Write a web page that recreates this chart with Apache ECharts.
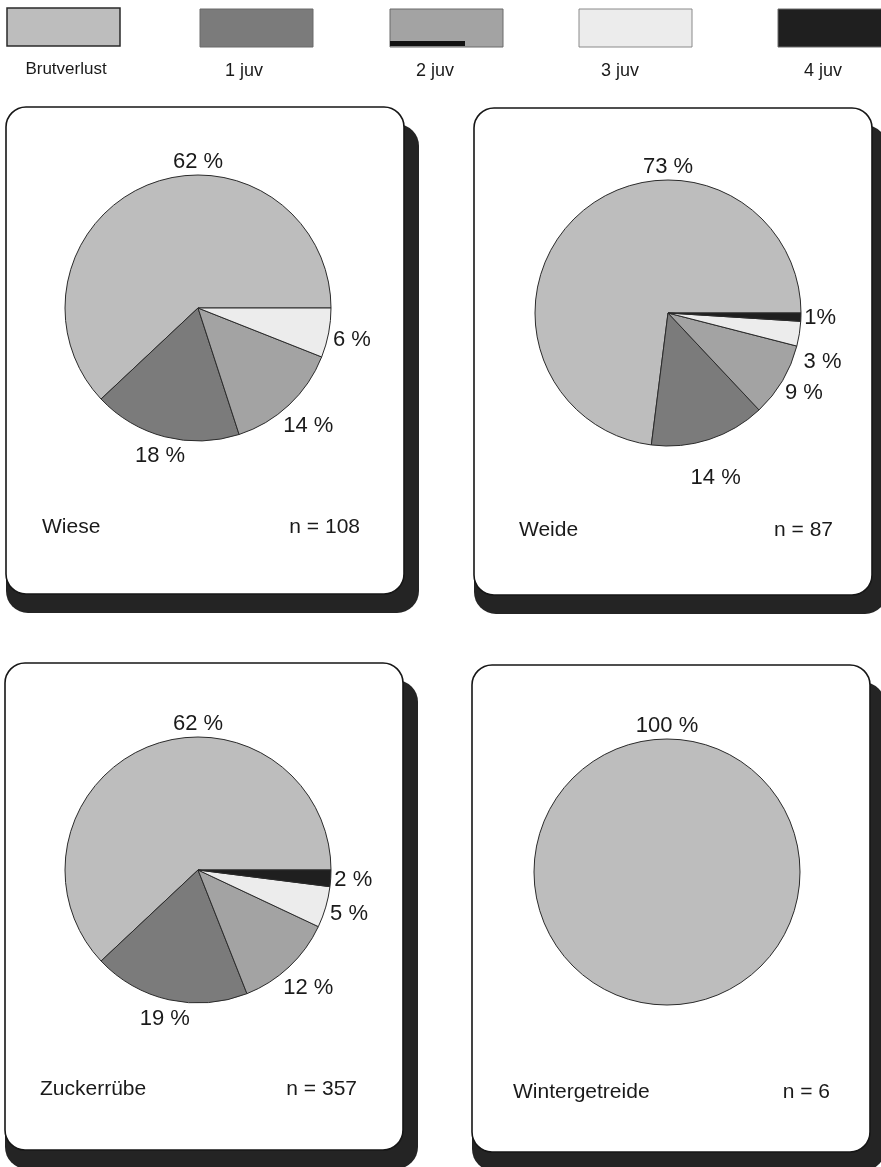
<!DOCTYPE html>
<html>
<head>
<meta charset="utf-8">
<script src="https://cdn.jsdelivr.net/npm/echarts@6/dist/echarts.min.js"></script>
<style>
  html, body { margin: 0; padding: 0; background: #ffffff; }
  #chart { width: 881px; height: 1167px; }
</style>
</head>
<body>
<div id="chart"></div>
<script>
// Breeding outcome categories (legend order = slice order, counter-clockwise from 3 o'clock)
const categories = ['Brutverlust', '1 juv', '2 juv', '3 juv', '4 juv'];

// Habitats and number of broods
const habitats = ['Wiese', 'Weide', 'Zuckerrübe', 'Wintergetreide'];
const sampleSizes = [108, 87, 357, 6];

// Share of broods per outcome (%)
const shareWiese = [62, 18, 14, 6, 0];
const shareWeide = [73, 14, 9, 3, 1];
const shareZuckerruebe = [62, 19, 12, 5, 2];
const shareWintergetreide = [100, 0, 0, 0, 0];
const shares = [shareWiese, shareWeide, shareZuckerruebe, shareWintergetreide];

// ---- styling / layout ----
const fills = ['#bdbdbd', '#7b7b7b', '#a3a3a3', '#ececec', '#1f1f1f'];
const FONT = '"Liberation Sans", Arial, Helvetica, sans-serif';
const TEXT = '#1a1a1a';

// legend swatch left edges and caption centres
const swatchX = [7, 200, 390, 579, 778];
const captionX = [66, 244, 435, 620, 823];

// panel boxes: [left, top]
const panelPos = [[6, 107], [474, 108], [5, 663], [472, 665]];
const PANEL_W = 398, PANEL_H = 487, SHADOW_DX = 15, SHADOW_DY = 17;
// pie centres relative to panel
const pieOffset = [[192, 201], [194, 205], [193, 207], [195, 207]];
const PIE_R = 133;
// footer text anchors per panel: [name left, n right, baseline middle]
const footerPos = [[42, 360, 527], [519, 833, 530], [40, 357, 1089], [513, 830, 1092]];

function fmtPct(v) {
  return v === 1 ? v + '%' : v + ' %';
}

// place each label just outside the rim, on the bisector of its slice;
// the largest slice is labelled at the top of the pie
function makeLabelLayout(cx, cy, r, values) {
  const items = values.filter(v => v > 0);
  const total = items.reduce((a, b) => a + b, 0);
  const mids = [];
  let acc = 0;
  items.forEach(v => {
    mids.push((acc + v / 2) / total * 360);
    acc += v;
  });
  return function (p) {
    const w = p.labelRect.width, h = p.labelRect.height;
    if (p.dataIndex === 0) {
      return { x: cx, y: cy - r - h / 2 - 2, align: 'center', verticalAlign: 'middle' };
    }
    const a = mids[p.dataIndex] * Math.PI / 180;
    const dx = Math.cos(a), dy = -Math.sin(a);
    const ext = Math.abs(dx) * w / 2 + Math.abs(dy) * h / 2;
    const d = r + 3 + ext;
    return {
      x: cx + dx * d, y: cy + dy * d,
      align: 'center', verticalAlign: 'middle',
      moveOverlap: 'shiftY'
    };
  };
}

const graphics = [];

// legend row
categories.forEach((c, i) => {
  const sx = swatchX[i];
  graphics.push({
    type: 'rect', z: 1,
    shape: { x: sx, y: 8 + (i === 0 ? 0 : 1), width: 113, height: 38 },
    style: {
      fill: fills[i],
      stroke: i === 0 ? '#2a2a2a' : (i === 3 ? '#8a8a8a' : '#6a6a6a'),
      lineWidth: i === 0 ? 1.5 : 1
    }
  });
  if (i === 2) {
    graphics.push({
      type: 'rect', z: 2,
      shape: { x: sx, y: 41, width: 75, height: 5 },
      style: { fill: '#111111' }
    });
  }
  graphics.push({
    type: 'text', z: 2,
    x: captionX[i], y: i === 0 ? 69 : 71,
    style: {
      text: c,
      fill: TEXT,
      font: (i === 0 ? '17px ' : '18px ') + FONT,
      textAlign: 'center', textVerticalAlign: 'middle'
    }
  });
});

// panel boxes with drop shadow, habitat name and n
panelPos.forEach(([px, py], k) => {
  const [nameX, nX, footY] = footerPos[k];
  graphics.push({
    type: 'rect', z: 0,
    shape: { x: px, y: py + SHADOW_DY, width: PANEL_W + SHADOW_DX, height: PANEL_H + 2, r: 22 },
    style: { fill: '#242424' }
  });
  graphics.push({
    type: 'rect', z: 1,
    shape: { x: px, y: py, width: PANEL_W, height: PANEL_H, r: 20 },
    style: { fill: '#ffffff', stroke: '#161616', lineWidth: 1.6 }
  });
  graphics.push({
    type: 'text', z: 2,
    x: nameX, y: footY,
    style: { text: habitats[k], fill: TEXT, font: '21px ' + FONT, textVerticalAlign: 'middle' }
  });
  graphics.push({
    type: 'text', z: 2,
    x: nX, y: footY,
    style: { text: 'n = ' + sampleSizes[k], fill: TEXT, font: '21px ' + FONT,
             textAlign: 'right', textVerticalAlign: 'middle' }
  });
});

const series = shares.map((vals, k) => {
  const cx = panelPos[k][0] + pieOffset[k][0];
  const cy = panelPos[k][1] + pieOffset[k][1];
  const data = [];
  vals.forEach((v, i) => {
    if (v > 0) {
      data.push({ name: categories[i], value: v, itemStyle: { color: fills[i] } });
    }
  });
  return {
    type: 'pie',
    z: 5,
    center: [cx, cy],
    radius: PIE_R,
    startAngle: 0,
    clockwise: false,
    avoidLabelOverlap: false,
    minShowLabelAngle: 0,
    silent: true,
    itemStyle: { borderColor: '#2b2b2b', borderWidth: 1 },
    label: {
      show: true,
      position: 'outside',
      formatter: p => fmtPct(p.value),
      fontFamily: FONT,
      fontSize: 22,
      color: TEXT
    },
    labelLine: { show: false, length: 2, length2: 0 },
    labelLayout: makeLabelLayout(cx, cy, PIE_R, vals),
    data: data
  };
});

const chart = echarts.init(document.getElementById('chart'), null, { renderer: 'canvas' });
chart.setOption({
  animation: false,
  backgroundColor: '#ffffff',
  graphic: { elements: graphics },
  series: series
});
</script>
</body>
</html>
